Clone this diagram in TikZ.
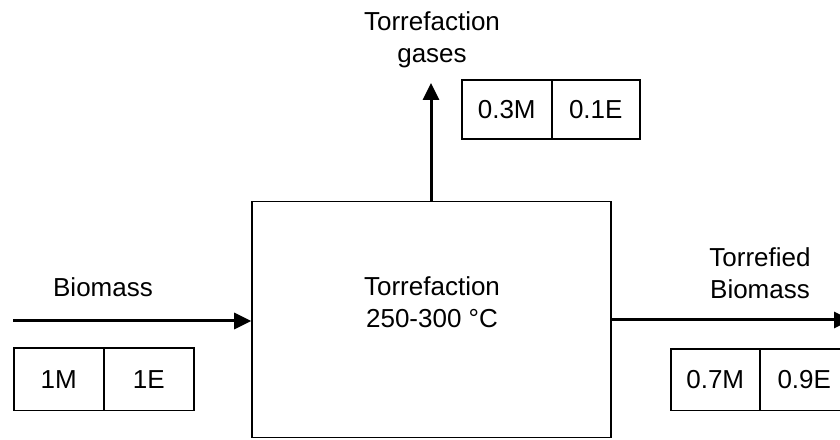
\documentclass[tikz,border=0pt]{standalone}
\usepackage{fontspec}
\setmainfont{Liberation Sans}
\usetikzlibrary{arrows.meta}
\begin{document}
\begin{tikzpicture}[x=1pt,y=1pt,
  lbl/.style={font=\fontsize{26}{32}\selectfont, align=center, inner sep=0pt},
  cell/.style={draw, line width=1.5pt, font=\fontsize{26}{32}\selectfont, inner sep=0pt, anchor=south west},
  arr/.style={line width=3pt, -{Triangle[length=17pt,width=16pt]}}]
\clip (0,0) rectangle (840,439);
% main box
\node[draw, line width=1.6pt, minimum width=359pt, minimum height=236pt, inner sep=0pt] (main) at (431.5,119.5) {};
\node[lbl] (maintext) at (432,137) {Torrefaction\\250-300 °C};
% input
\coordinate (bin) at (13,118);
\draw[arr] (bin) -- (bin -| main.west);
\node[lbl, anchor=base] (biolbl) at (103,142) {Biomass};
\node[cell, minimum width=90pt, minimum height=62pt] (c1m) at (13,28) {1M};
\node[cell, minimum width=90pt, minimum height=62pt] (c1e) at (103,28) {1E};
% gases
\coordinate (gout) at (431,356);
\draw[arr] (main.north -| gout) -- (gout);
\node[lbl] (gaslbl) at (432,399.5) {Torrefaction\\gases};
\node[cell, minimum width=90pt, minimum height=59pt] (c3m) at (461,299) {0.3M};
\node[cell, minimum width=88pt, minimum height=59pt] (c1ee) at (551,299) {0.1E};
% output
\coordinate (bout) at (851,119);
\draw[arr] (main.east |- bout) -- (bout);
\node[lbl] (tblbl) at (760,165.5) {Torrefied\\Biomass};
\node[cell, minimum width=89pt, minimum height=61pt] (c7m) at (670,28) {0.7M};
\node[cell, minimum width=89pt, minimum height=61pt] (c9e) at (759,28) {0.9E};
\end{tikzpicture}
\end{document}
